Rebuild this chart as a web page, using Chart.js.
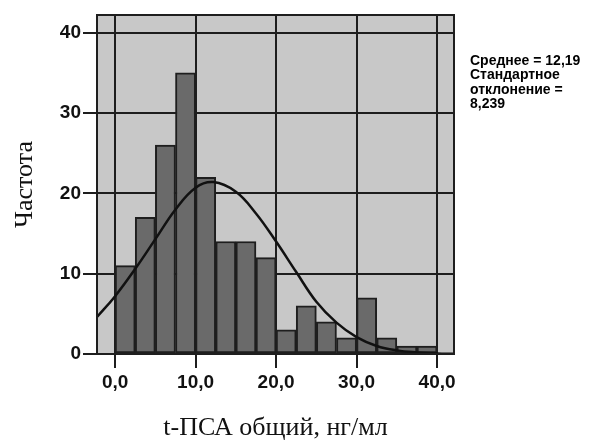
<!DOCTYPE html>
<html>
<head>
<meta charset="utf-8">
<script src="https://cdn.jsdelivr.net/npm/chart.js@4"></script>
<style>
  html, body { margin: 0; padding: 0; background: #fff; }
  #wrap { width: 592px; height: 444px; }
</style>
</head>
<body>
<div id="wrap"><canvas id="histChart" width="592" height="444"></canvas></div>
<script>
// bin centres (bin width 2,5) and counts
const binCenters = [1.25, 3.75, 6.25, 8.75, 11.25, 13.75, 16.25, 18.75, 21.25, 23.75, 26.25, 28.75, 31.25, 33.75, 36.25, 38.75];
const counts = [11, 17, 26, 35, 22, 14, 14, 12, 3, 6, 4, 2, 7, 2, 1, 1];

// normal curve, points
const curveX = [-2.25, 0, 2.5, 5, 7.5, 10, 12.2, 15, 17.5, 20, 22.5, 25, 27.5, 30, 32.5, 35, 37.5, 40, 42.1];
const curveY = [4.6, 7.2, 10.6, 14.3, 18.0, 20.7, 21.4, 20.2, 17.5, 14.0, 10.2, 6.5, 3.9, 2.1, 1.0, 0.45, 0.2, 0.07, 0.03];

const xTicks = [0, 10, 20, 30, 40];
const yTicks = [0, 10, 20, 30, 40];
const statsLines = ['Среднее = 12,19', 'Стандартное', 'отклонение =', '8,239'];

const plotBox = {
  id: 'plotBox',
  beforeDraw(chart) {
    const a = chart.chartArea, ctx = chart.ctx;
    ctx.save();
    ctx.fillStyle = '#c8c8c8';
    ctx.fillRect(a.left, a.top, a.right - a.left, a.bottom - a.top);
    ctx.restore();
  },
  afterDraw(chart) {
    const a = chart.chartArea, ctx = chart.ctx;
    ctx.save();
    ctx.strokeStyle = '#1e1e1e';
    ctx.lineWidth = 2;
    ctx.strokeRect(a.left, a.top, a.right - a.left, a.bottom - a.top);
    // statistics note on the right
    ctx.fillStyle = '#000';
    ctx.font = 'bold 14px "Liberation Sans", Arial, sans-serif';
    ctx.textBaseline = 'top';
    statsLines.forEach((t, i) => {
      ctx.fillText(t, 470, 54 + i * 14.5, 121);
    });
    ctx.restore();
  }
};

const ctx = document.getElementById('histChart').getContext('2d');
new Chart(ctx, {
  type: 'bar',
  data: {
    datasets: [
      {
        type: 'line',
        data: curveX.map((x, i) => ({ x: x, y: curveY[i] })),
        borderColor: '#111',
        borderWidth: 2.5,
        pointRadius: 0,
        tension: 0.4,
        fill: false,
        order: 0
      },
      {
        type: 'bar',
        data: binCenters.map((x, i) => ({ x: x, y: counts[i] })),
        backgroundColor: '#6a6a6a',
        borderColor: '#1e1e1e',
        borderWidth: 2,
        borderSkipped: false,
        barPercentage: 1,
        categoryPercentage: 1,
        order: 1
      }
    ]
  },
  options: {
    responsive: false,
    animation: false,
    layout: { padding: { top: 15, right: 138, left: 0, bottom: 0 } },
    plugins: { legend: { display: false }, tooltip: { enabled: false } },
    scales: {
      x: {
        type: 'linear',
        min: -2.25,
        max: 42.1,
        offset: false,
        afterBuildTicks: s => { s.ticks = xTicks.map(v => ({ value: v })); },
        afterFit: s => { s.height = 90; },
        grid: { color: '#1e1e1e', lineWidth: 2, tickLength: 14, drawTicks: true, offset: false },
        border: { display: false },
        ticks: {
          color: '#111',
          padding: 3,
          font: { family: '"Liberation Sans", Arial, sans-serif', size: 19, weight: 'bold' },
          callback: v => v.toFixed(1).replace('.', ',')
        },
        title: {
          display: true,
          text: 't-ПСА общий, нг/мл',
          color: '#111',
          font: { family: '"Liberation Serif", "Times New Roman", serif', size: 26 },
          padding: { top: 14, bottom: 0 }
        }
      },
      y: {
        min: 0,
        max: 42.2,
        afterBuildTicks: s => { s.ticks = yTicks.map(v => ({ value: v })); },
        afterFit: s => { s.width = 97; },
        grid: { color: '#1e1e1e', lineWidth: 2, tickLength: 14, drawTicks: true, offset: false },
        border: { display: false },
        ticks: {
          color: '#111',
          padding: 2,
          font: { family: '"Liberation Sans", Arial, sans-serif', size: 19, weight: 'bold' }
        },
        title: {
          display: true,
          text: 'Частота',
          color: '#111',
          font: { family: '"Liberation Serif", "Times New Roman", serif', size: 26 },
          padding: { top: 10, bottom: 0 }
        }
      }
    }
  },
  plugins: [plotBox]
});
</script>
</body>
</html>
